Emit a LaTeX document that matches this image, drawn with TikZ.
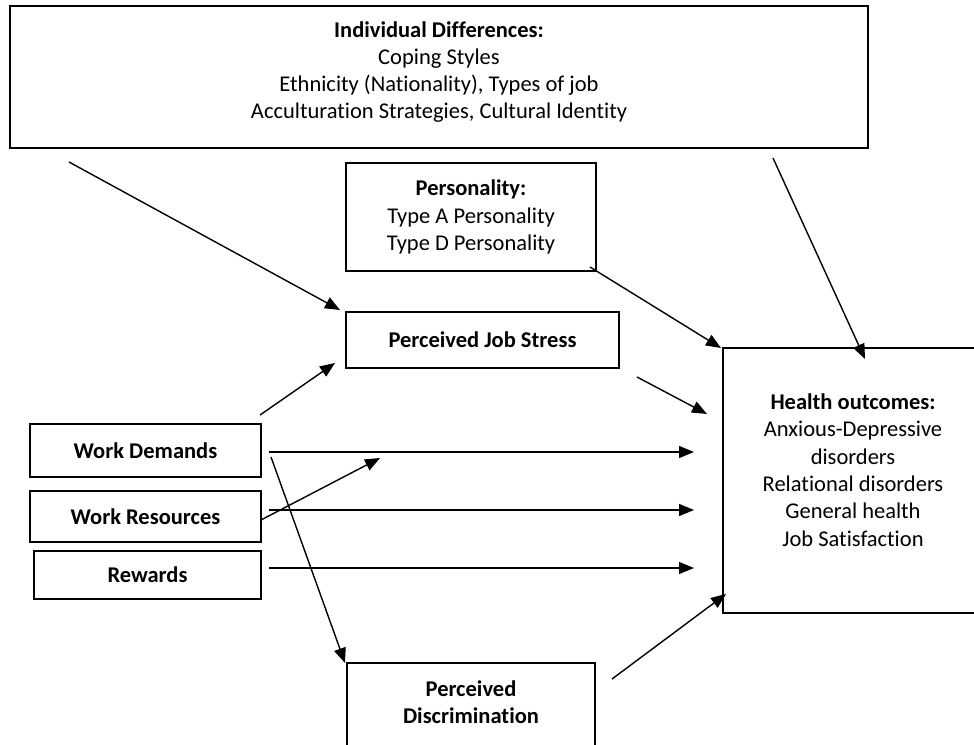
\documentclass[tikz,border=0pt]{standalone}
\usepackage{fontspec}
\setmainfont{Carlito}[Ligatures={NoCommon}]
\usetikzlibrary{arrows.meta}
\begin{document}
\begin{tikzpicture}[x=1pt,y=-1pt,
  box/.style={draw, line width=1.5pt, inner sep=0pt, align=center,
    font=\fontsize{22.5}{27.3}\selectfont},
  txt/.style={inner sep=0pt, align=center, font=\fontsize{22.5}{27.3}\selectfont},
  arr/.style={line width=1.4pt, -{Triangle[length=15pt,width=12pt]}}]
\useasboundingbox (0,0) rectangle (974,744);
% boxes
\node[box, minimum width=858pt, minimum height=142pt] (indiv) at (439,77) {};
\node[txt] (indivtxt) at (439,72) {\textbf{Individual Differences:}\\Coping Styles\\Ethnicity (Nationality), Types of job\\Acculturation Strategies, Cultural Identity};
\node[box, minimum width=250pt, minimum height=108pt] (pers) at (471,217) {\textbf{Personality:}\\Type A Personality\\Type D Personality};
\node[box, minimum width=273pt, minimum height=56pt] (js) at (482.5,340) {\textbf{Perceived Job Stress}};
\node[box, minimum width=231pt, minimum height=53pt] (wd) at (145.5,450.5) {\textbf{Work Demands}};
\node[box, minimum width=231pt, minimum height=51pt] (wr) at (145.5,516.5) {\textbf{Work Resources}};
\node[box, minimum width=227pt, minimum height=48pt] (rw) at (147.5,575) {\textbf{Rewards}};
\node[box, minimum width=320pt, minimum height=265pt] (health) at (883,480.5) {};
\node[txt] (healthtxt) at (853,470) {\textbf{Health outcomes:}\\Anxious-Depressive\\disorders\\Relational disorders\\General health\\Job Satisfaction};
\node[box, minimum width=248pt, minimum height=110pt] (disc) at (471,718) {};
\node[txt] (disctxt) at (471,702) {\textbf{Perceived}\\\textbf{Discrimination}};
% connector end points
\coordinate (a1s) at (69,162);   \coordinate (a1e) at (340,310);
\coordinate (a2s) at (260,415);  \coordinate (a2e) at (335,363);
\coordinate (a3s) at (637,377);  \coordinate (a3e) at (707,414);
\coordinate (a4s) at (590,267);  \coordinate (a4e) at (721,348);
\coordinate (a5s) at (773,158);  \coordinate (a5e) at (865,359);
\coordinate (a6s) at (269,452);  \coordinate (a6e) at (694,452);
\coordinate (a7s) at (269,510);  \coordinate (a7e) at (694,510);
\coordinate (a8s) at (269,568);  \coordinate (a8e) at (694,568);
\coordinate (a9s) at (261,520);  \coordinate (a9e) at (380,458);
\coordinate (a10s) at (271,457); \coordinate (a10e) at (345,663);
\coordinate (a11s) at (612,679); \coordinate (a11e) at (726,594);
% connectors
\draw[arr] (a1s) -- (a1e);
\draw[arr] (a2s) -- (a2e);
\draw[arr] (a3s) -- (a3e);
\draw[arr] (a4s) -- (a4e);
\draw[arr] (a5s) -- (a5e);
\draw[arr] (a6s) -- (a6e);
\draw[arr] (a7s) -- (a7e);
\draw[arr] (a8s) -- (a8e);
\draw[arr] (a9s) -- (a9e);
\draw[arr] (a10s) -- (a10e);
\draw[arr] (a11s) -- (a11e);
\end{tikzpicture}
\end{document}
